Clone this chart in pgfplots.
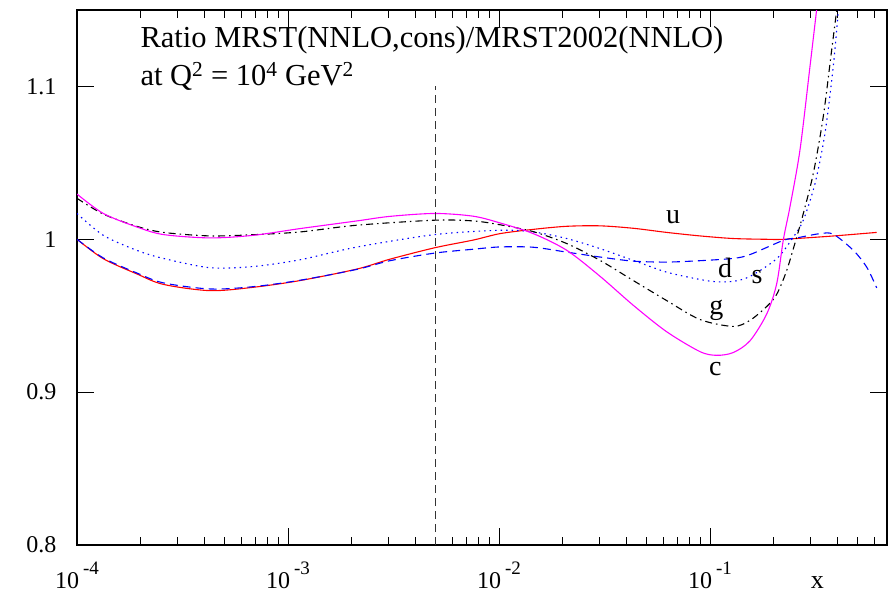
\documentclass[border=0pt]{standalone}
\usepackage{fontspec}
\setmainfont{Liberation Serif}
\usepackage{pgfplots}
\pgfplotsset{compat=1.18}
\definecolor{cmag}{RGB}{255,0,255}
\definecolor{cred}{RGB}{255,0,0}
\definecolor{cblue}{RGB}{0,0,255}
\newcommand{\tl}[1]{10\,\raisebox{0.6em}{\fontsize{19}{19}\selectfont #1}}
\begin{document}
\begin{tikzpicture}
\begin{axis}[
  scale only axis, width=810pt, height=535pt,
  xmode=log, xmin=1e-4, xmax=0.69, ymin=0.8, ymax=1.15,
  xtick={1e-4,1e-3,1e-2,1e-1},
  xticklabels={\tl{-4},\tl{-3},\tl{-2},\tl{-1}},
  minor xtick={2e-4,3e-4,4e-4,5e-4,6e-4,7e-4,8e-4,9e-4,2e-3,3e-3,4e-3,5e-3,6e-3,7e-3,8e-3,9e-3,2e-2,3e-2,4e-2,5e-2,6e-2,7e-2,8e-2,9e-2,0.2,0.3,0.4,0.5,0.6},
  ytick={0.8,0.9,1,1.1}, yticklabels={0.8,0.9,1,1.1},
  minor y tick num=0,
  tick align=inside,
  major tick length=17pt, minor tick length=8pt,
  tick style={black, line width=0.8pt},
  axis line style={line width=1.2pt},
  ticklabel style={font=\fontsize{24}{24}\selectfont},
  yticklabel style={xshift=-17pt},
  xticklabel style={yshift=-13pt},
]
% u
\addplot[cred, line width=1.1pt, smooth] coordinates {
(1e-4,1.000) (1.332e-4,0.9873) (1.918e-4,0.9774) (2.564e-4,0.9705) (4.27e-4,0.9664)
(6.85e-4,0.9686) (1.14e-3,0.9730) (2.117e-3,0.9805) (3.044e-3,0.9870) (4.973e-3,0.9945)
(7.55e-3,0.9995) (1.011e-2,1.0037) (1.454e-2,1.0065) (2.094e-2,1.0085) (3.011e-2,1.0088)
(4.33e-2,1.0072) (6.233e-2,1.0045) (8.965e-2,1.0022) (0.1289,1.0005) (0.1856,1.0000)
(0.2225,1.0000) (0.3704,1.0020) (0.6166,1.0045)};
% d
\addplot[cblue, line width=1.1pt, smooth, dash pattern=on 8pt off 5pt] coordinates {
(1e-4,1.000) (1.332e-4,0.9878) (1.918e-4,0.9780) (2.564e-4,0.9715) (4.27e-4,0.9675)
(6.85e-4,0.9690) (1.14e-3,0.9732) (2.117e-3,0.9803) (3.044e-3,0.9860) (4.973e-3,0.9910)
(7.55e-3,0.9935) (1.011e-2,0.9950) (1.454e-2,0.9948) (2.094e-2,0.9916) (3.011e-2,0.9884)
(4.33e-2,0.9857) (6.233e-2,0.9851) (8.965e-2,0.9860) (0.1289,0.9875) (0.1547,0.9900)
(0.2225,0.9993) (0.2576,1.0009) (0.3322,1.0037) (0.3840,1.0033) (0.4776,0.9928)
(0.5528,0.9818) (0.6166,0.9682)};
% s
\addplot[cblue, line width=1.1pt, smooth, dash pattern=on 1.5pt off 4pt] coordinates {
(1e-4,1.0169) (1.332e-4,1.0026) (1.918e-4,0.9928) (2.564e-4,0.9875) (4.27e-4,0.9814)
(6.85e-4,0.9822) (1.14e-3,0.9866) (2.117e-3,0.9949) (4.973e-3,1.0031) (1.011e-2,1.0059)
(1.454e-2,1.0048) (2.094e-2,1.0005) (3.011e-2,0.9939) (4.33e-2,0.9862) (6.233e-2,0.9785)
(8.965e-2,0.9737) (0.1076,0.9722) (0.1289,0.9725) (0.1547,0.9757) (0.2070,0.9873)
(0.2483,1.0015) (0.2768,1.0125) (0.3146,1.0366) (0.3508,1.0695) (0.3840,1.1134)
(0.4057,1.150)};
% g
\addplot[black, line width=1.1pt, smooth, dash pattern=on 7pt off 4pt on 1.5pt off 4pt] coordinates {
(1e-4,1.0268) (1.332e-4,1.0165) (1.918e-4,1.0085) (2.564e-4,1.0045) (4.27e-4,1.0022)
(6.85e-4,1.0030) (1.14e-3,1.0048) (2.117e-3,1.0092) (4.973e-3,1.0125) (7.55e-3,1.0120)
(1.011e-2,1.0095) (1.454e-2,1.0050) (2.094e-2,0.9972) (3.011e-2,0.9862) (4.33e-2,0.9730)
(6.233e-2,0.9599) (8.965e-2,0.9475) (0.1289,0.9430) (0.1547,0.9470) (0.1856,0.9560)
(0.2070,0.9640) (0.2309,0.9796) (0.2576,1.0015) (0.2768,1.0169) (0.3088,1.0432)
(0.3443,1.0805) (0.3773,1.1240) (0.3986,1.150)};
% c
\addplot[cmag, line width=1.1pt, smooth] coordinates {
(1e-4,1.0296) (1.332e-4,1.0169) (1.918e-4,1.0081) (2.564e-4,1.0031) (4.27e-4,1.0009)
(6.85e-4,1.0026) (1.14e-3,1.0070) (2.117e-3,1.0120) (3.044e-3,1.0150) (4.973e-3,1.0169)
(7.55e-3,1.0151) (1.011e-2,1.0107) (1.454e-2,1.0037) (2.094e-2,0.9928) (3.011e-2,0.9758)
(4.33e-2,0.9568) (6.233e-2,0.9395) (8.965e-2,0.9265) (0.1076,0.9241) (0.1289,0.9259)
(0.1547,0.9336) (0.1856,0.9511) (0.2070,0.9709) (0.2225,0.9996) (0.2393,1.0213)
(0.2670,1.0586) (0.2979,1.1134) (0.3204,1.1507)};
% vertical line
\addplot[black!80, line width=1.1pt, dash pattern=on 8pt off 5pt] coordinates {(0.005,0.8) (0.005,1.1)};
\node[anchor=base west, font=\fontsize{30.5}{30.5}\selectfont] at (rel axis cs:0.0741,0.929) {Ratio MRST(NNLO,cons)/MRST2002(NNLO)};
\node[anchor=base west, font=\fontsize{30.5}{30.5}\selectfont] at (rel axis cs:0.0741,0.858) {at Q\textsuperscript{2} = 10\textsuperscript{4} GeV\textsuperscript{2}};
\begin{scope}[every node/.style={font=\fontsize{28}{28}\selectfont}]
\node at (axis cs:0.0668,1.0145) {u};
\node at (axis cs:0.1178,0.981) {d};
\node at (axis cs:0.167,0.975) {s};
\node at (axis cs:0.1072,0.9533) {g};
\node at (axis cs:0.106,0.915) {c};
\end{scope}
\coordinate (xl) at (rel axis cs:0.914,0);
\coordinate (bbll) at (rel axis cs:-0.0951,-0.1028);
\coordinate (bbur) at (rel axis cs:1.0086,1.0187);
\end{axis}
\node[anchor=base, yshift=-43pt, font=\fontsize{26}{26}\selectfont] at (xl) {x};
\path (bbll) rectangle (bbur);
\end{tikzpicture}
\end{document}
